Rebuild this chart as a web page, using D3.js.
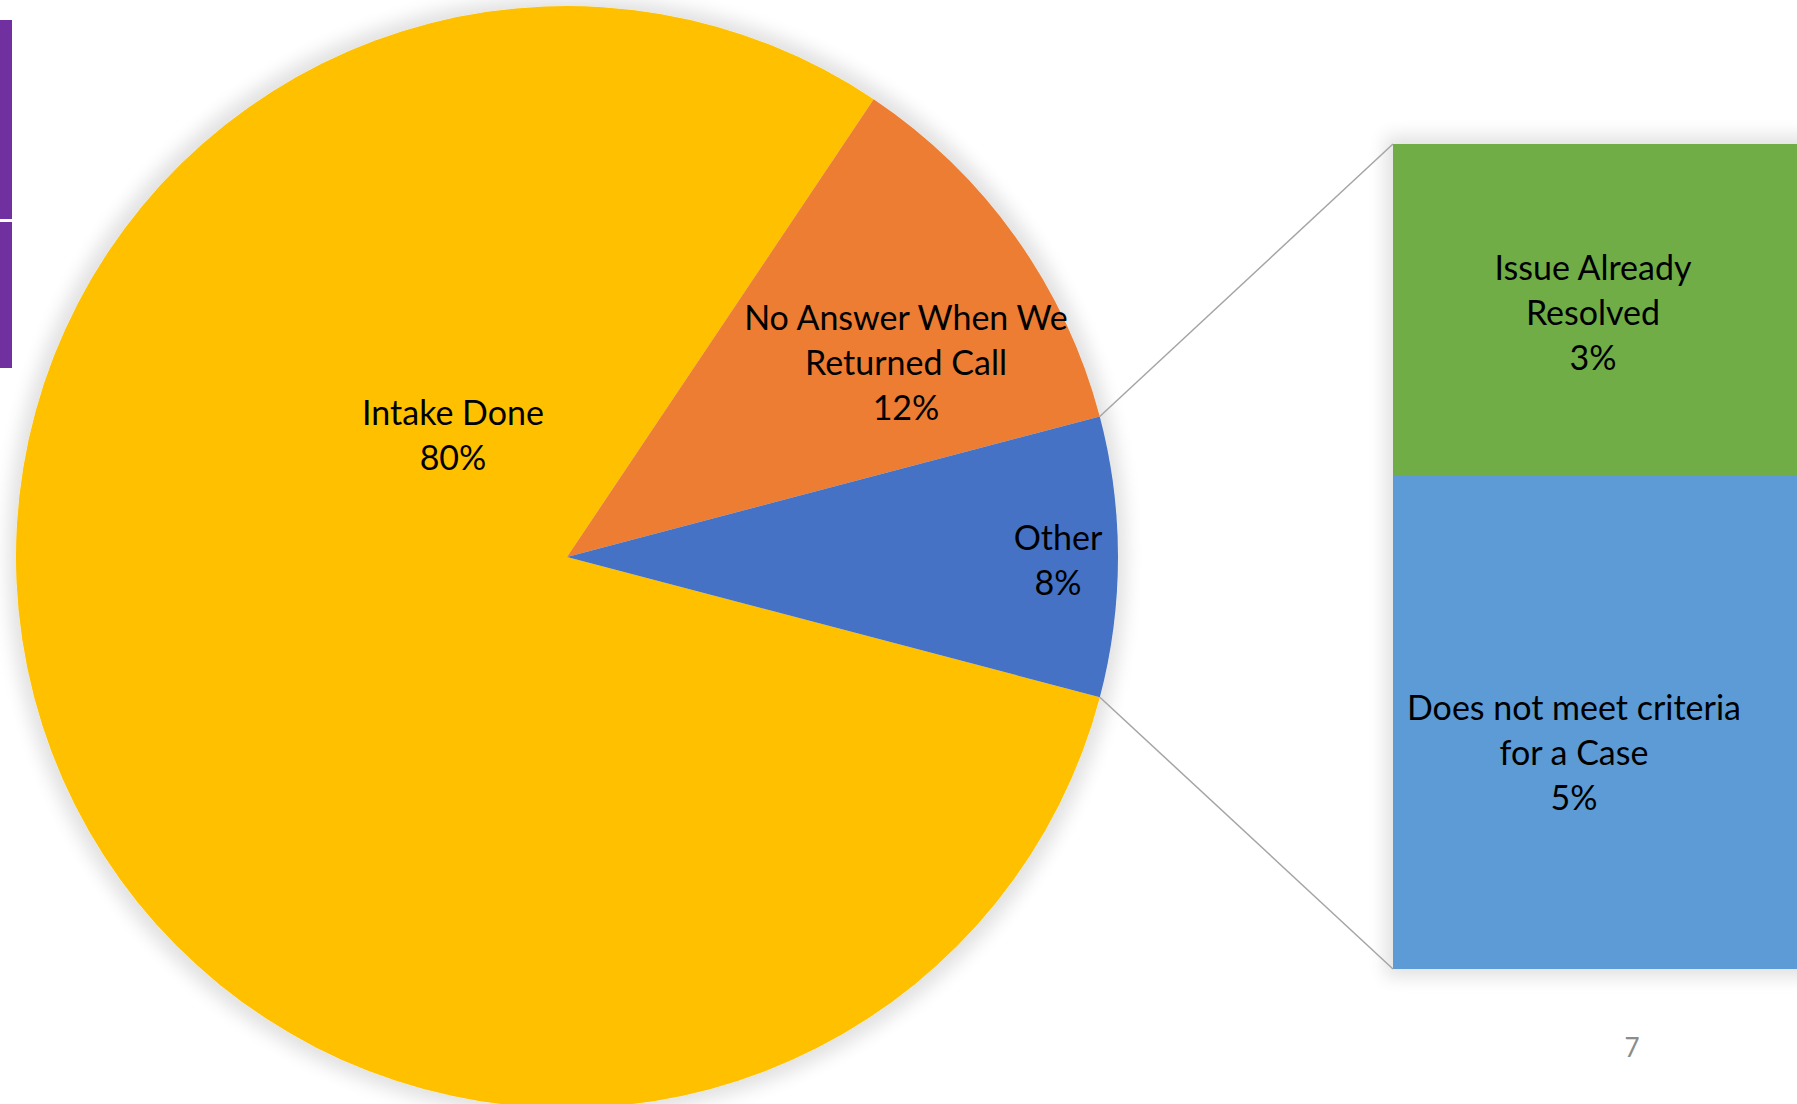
<!DOCTYPE html>
<meta charset="utf-8">
<body style="margin:0;background:#fff;overflow:hidden">
<script src="https://d3js.org/d3.v7.min.js"></script>
<div id="chart"></div>
</body>
<script>

// main pie (percent of calls)
var mainLabels = ["Intake Done", "No Answer When We Returned Call", "Other"]
var mainValues = [80.3, 11.5, 8.2]
var mainColors = ["#FFC000", "#ED7D31", "#4472C4"]

// bar of "Other"
var subLabels = ["Issue Already Resolved", "Does not meet criteria for a Case"]
var subValues = [3.3, 4.9]
var subColors = ["#70AD47", "#5B9BD5"]

// how the label text wraps
var mainLines = [["Intake Done"], ["No Answer When We", "Returned Call"], ["Other"]]
var subLines = [["Issue Already", "Resolved"], ["Does not meet criteria", "for a Case"]]

var W = 1797, H = 1104
var cx = 567, cy = 557, r = 551
var box = {x: 1393, top: 144, bottom: 969}
var lineH = 45
var font = "Lato, 'Open Sans', sans-serif"

var svg = d3.select("#chart")
  .append("svg")
    .attr("width", W)
    .attr("height", H)

// soft glow like the office shadow
var defs = svg.append("defs")
var f = defs.append("filter").attr("id", "glow")
  .attr("x", "-10%").attr("y", "-10%").attr("width", "120%").attr("height", "120%")
f.append("feMorphology").attr("in", "SourceAlpha").attr("operator", "dilate").attr("radius", 8).attr("result", "d")
f.append("feGaussianBlur").attr("in", "d").attr("stdDeviation", 9).attr("result", "b")
f.append("feComponentTransfer").attr("in", "b").attr("result", "s")
  .append("feFuncA").attr("type", "linear").attr("slope", 0.12)
var m = f.append("feMerge")
m.append("feMergeNode").attr("in", "s")
m.append("feMergeNode").attr("in", "SourceGraphic")

// purple slide bars at the left edge
svg.append("rect").attr("x", 0).attr("y", 20).attr("width", 12).attr("height", 199).attr("fill", "#7030A0")
svg.append("rect").attr("x", 0).attr("y", 222).attr("width", 12).attr("height", 146).attr("fill", "#7030A0")

var startA = 104.74 * Math.PI / 180
var pie = d3.pie().sort(null).startAngle(startA).endAngle(startA + 2 * Math.PI)
var arcs = pie(mainValues)
var arc = d3.arc().innerRadius(0).outerRadius(r)

var gPie = svg.append("g")
  .attr("transform", `translate(${cx},${cy})`)

gPie.append("g")
  .attr("filter", "url(#glow)")
  .selectAll("path")
  .data(arcs)
  .join("path")
    .attr("d", arc)
    .attr("fill", function(d, i) { return mainColors[i] })

// secondary stacked bar
var subTotal = d3.sum(subValues)
var y = d3.scaleLinear().domain([0, subTotal]).range([box.top, box.bottom])
var stack = []
var acc = 0
subValues.forEach(function(v, i) { stack.push({i: i, y0: acc, y1: acc + v}); acc += v })

svg.append("g")
  .attr("filter", "url(#glow)")
  .selectAll("rect")
  .data(stack)
  .join("rect")
    .attr("x", box.x)
    .attr("y", function(d) { return y(d.y0) })
    .attr("width", W - box.x + 20)
    .attr("height", function(d) { return y(d.y1) - y(d.y0) })
    .attr("fill", function(d) { return subColors[d.i] })

// connector lines from the Other slice edges to the bar corners
var other = arcs[2]
var pTop = [cx + r * Math.sin(other.startAngle), cy - r * Math.cos(other.startAngle)]
var pBot = [cx + r * Math.sin(other.endAngle), cy - r * Math.cos(other.endAngle)]
svg.append("line")
  .attr("x1", pTop[0]).attr("y1", pTop[1]).attr("x2", box.x).attr("y2", y(0))
  .attr("stroke", "#A5A5A5").attr("stroke-width", 1.5)
svg.append("line")
  .attr("x1", pBot[0]).attr("y1", pBot[1]).attr("x2", box.x).attr("y2", y(subTotal))
  .attr("stroke", "#A5A5A5").attr("stroke-width", 1.5)

// label placement: first baseline offset from pie centre / segment top-left
var mainOff = [[-114, -132], [339, -227], [491, -7]]
var subOff = [[200, 136], [181, 244]]

function drawLabel(g, x, y0, lines, pct) {
  var t = g.append("text")
    .attr("text-anchor", "middle")
    .style("font-family", font)
    .style("font-size", "34px")
    .attr("fill", "#000")
  lines.concat([pct]).forEach(function(s, k) {
    t.append("tspan").attr("x", x).attr("y", y0 + k * lineH).text(s)
  })
}

arcs.forEach(function(d, i) {
  drawLabel(svg, cx + mainOff[i][0], cy + mainOff[i][1], mainLines[i], Math.round(d.value) + "%")
})
stack.forEach(function(d, i) {
  drawLabel(svg, box.x + subOff[i][0], y(d.y0) + subOff[i][1], subLines[i], Math.round(subValues[i]) + "%")
})

// slide number
svg.append("text")
  .attr("x", 1632).attr("y", 1057)
  .attr("text-anchor", "middle")
  .style("font-family", font)
  .style("font-size", "26px")
  .attr("fill", "#8C8C8C")
  .text("7")

</script>
